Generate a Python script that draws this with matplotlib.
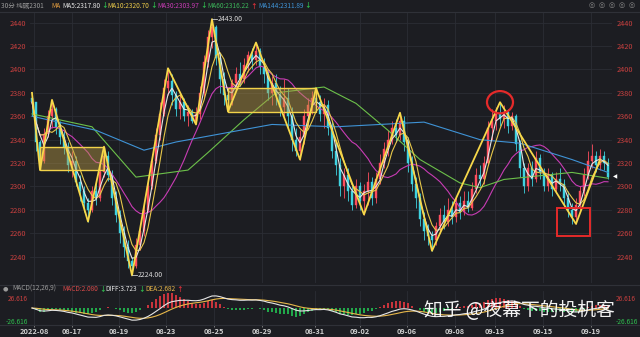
import numpy as np
import pandas as pd
import matplotlib
matplotlib.use("Agg")
import matplotlib.pyplot as plt
from matplotlib.patches import Rectangle, Ellipse
from matplotlib.lines import Line2D

plt.rcParams['font.family'] = ['Noto Sans CJK SC', 'DejaVu Sans']

# 30-minute soda ash futures (纯碱2301), one candle ~ every 4 px on the reference
closes = [2372, 2338, 2322, 2345, 2360, 2366, 2350, 2342, 2334, 2318,
          2322, 2304, 2296, 2286, 2280, 2296, 2290, 2312, 2326, 2310,
          2290, 2276, 2260, 2248, 2236, 2232, 2250, 2262, 2280, 2300,
          2322, 2344, 2362, 2384, 2390, 2378, 2366, 2372, 2360, 2364,
          2356, 2362, 2380, 2406, 2428, 2436, 2410, 2392, 2378, 2374,
          2388, 2396, 2392, 2404, 2412, 2408, 2416, 2402, 2396, 2380,
          2388, 2378, 2368, 2376, 2360, 2340, 2330, 2342, 2360, 2370,
          2376, 2372, 2362, 2370, 2350, 2330, 2318, 2300, 2310, 2296,
          2284, 2300, 2288, 2296, 2304, 2290, 2306, 2320, 2332, 2340,
          2350, 2344, 2356, 2338, 2320, 2302, 2290, 2272, 2262, 2258,
          2254, 2266, 2276, 2270, 2280, 2274, 2286, 2278, 2288, 2282,
          2298, 2310, 2306, 2320, 2350, 2356, 2362, 2358, 2364, 2352,
          2360, 2336, 2316, 2300, 2316, 2306, 2324, 2312, 2300, 2310,
          2298, 2306, 2302, 2290, 2280, 2274, 2284, 2296, 2310, 2322,
          2326, 2318, 2326, 2320, 2308]
highs = [2380, 2372, 2340, 2350, 2365, 2374, 2368, 2356, 2348, 2338,
         2330, 2326, 2310, 2300, 2290, 2300, 2305, 2318, 2334, 2330,
         2314, 2296, 2280, 2266, 2254, 2240, 2256, 2266, 2286, 2306,
         2328, 2350, 2372, 2392, 2401, 2396, 2382, 2380, 2376, 2370,
         2366, 2368, 2386, 2412, 2434, 2443, 2438, 2414, 2398, 2384,
         2392, 2402, 2406, 2410, 2416, 2418, 2423, 2418, 2410, 2400,
         2394, 2396, 2386, 2392, 2384, 2368, 2350, 2348, 2366, 2376,
         2382, 2384, 2378, 2376, 2374, 2356, 2338, 2324, 2316, 2316,
         2302, 2306, 2304, 2302, 2312, 2308, 2312, 2328, 2338, 2348,
         2356, 2358, 2363, 2360, 2342, 2326, 2308, 2294, 2278, 2268,
         2262, 2270, 2282, 2284, 2290, 2288, 2292, 2292, 2296, 2296,
         2304, 2316, 2318, 2326, 2356, 2366, 2368, 2372, 2370, 2366,
         2364, 2362, 2340, 2320, 2320, 2322, 2330, 2328, 2316, 2316,
         2312, 2312, 2316, 2306, 2296, 2286, 2290, 2300, 2316, 2330,
         2336, 2330, 2332, 2330, 2324]
lows = [2360, 2330, 2314, 2320, 2342, 2350, 2345, 2336, 2328, 2312,
        2308, 2300, 2288, 2278, 2270, 2278, 2284, 2288, 2308, 2305,
        2284, 2270, 2252, 2240, 2230, 2224, 2230, 2246, 2258, 2278,
        2298, 2320, 2340, 2360, 2378, 2370, 2360, 2358, 2356, 2352,
        2354, 2353, 2358, 2376, 2402, 2418, 2404, 2380, 2370, 2364,
        2370, 2384, 2386, 2388, 2398, 2400, 2404, 2396, 2388, 2374,
        2370, 2370, 2360, 2360, 2350, 2330, 2326, 2323, 2336, 2352,
        2362, 2366, 2356, 2350, 2344, 2324, 2310, 2292, 2290, 2288,
        2280, 2282, 2280, 2276, 2284, 2284, 2286, 2302, 2316, 2326,
        2336, 2338, 2340, 2330, 2312, 2296, 2282, 2266, 2254, 2250,
        2245, 2250, 2260, 2264, 2266, 2268, 2270, 2272, 2276, 2278,
        2280, 2294, 2300, 2302, 2318, 2340, 2348, 2352, 2350, 2346,
        2348, 2330, 2308, 2294, 2296, 2300, 2304, 2306, 2296, 2296,
        2292, 2294, 2296, 2284, 2274, 2268, 2268, 2280, 2292, 2306,
        2316, 2312, 2314, 2314, 2306]
first_open = 2376

# longer averages (bar index, price)
ma60_idx = [0, 15, 26, 39, 44, 53, 61, 73, 81, 89, 97, 107, 112, 118, 135, 144]
ma60_val = [2362, 2351, 2308, 2314, 2329, 2357, 2380, 2385, 2371, 2348, 2323, 2303, 2299, 2306, 2312, 2307]
ma144_idx = [0, 16, 28, 36, 60, 76, 98, 112, 122, 135, 144]
ma144_val = [2360, 2348, 2331, 2338, 2353, 2351, 2355, 2340, 2337, 2323, 2312]

# hand-drawn zigzag and boxes
zig_idx = [0, 2, 5, 14, 18, 25, 34, 41, 45, 49, 56, 67, 71, 83, 92, 100, 117, 136, 142]
zig_val = [2380, 2314, 2374, 2270, 2334, 2224, 2401, 2353, 2443, 2364, 2423, 2323, 2384, 2276, 2363, 2245, 2372, 2268, 2323]
boxes = [(2, 18, 2314, 2334), (49, 71, 2364, 2384)]

date_pos = [0.5, 10, 21.75, 33.5, 45.5, 57.5, 70.75, 82, 93.75, 105.75, 115.75, 127.75, 139.75]
date_labels = ['2022-08', '08-17', '08-19', '08-23', '08-25', '08-29', '08-31',
               '09-02', '09-06', '09-08', '09-13', '09-15', '09-19']
price_ticks = list(range(2240, 2441, 20))

ma_header = [('MA5:2317.80', '#e6e6e6', '↓'), ('MA10:2320.70', '#e8c84a', '↓'),
             ('MA30:2303.97', '#c83cb4', '↓'), ('MA60:2316.22', '#3cb45a', '↑'),
             ('MA144:2311.89', '#3f93d6', '↓')]
macd_header = [('MACD:2.080', '#d84a4a', '↓'), ('DIFF:3.723', '#e6e6e6', '↓'),
               ('DEA:2.682', '#e8b84a', '↑')]

BG = '#1c1d22'
GRID = '#2b2d34'
UP = '#ff4e5e'
DOWN = '#3fd2e0'
RED_TXT = '#c8403f'
GREEN = '#2fbf4f'
ARROW_UP = '#e0303a'

c = pd.Series(closes, dtype=float)
o = np.array([first_open] + closes[:-1], dtype=float)
h = np.maximum(np.array(highs, float), np.maximum(o, c.values))
l = np.minimum(np.array(lows, float), np.minimum(o, c.values))
x = np.arange(len(c))

ma5 = c.rolling(3, min_periods=1).mean()
ma10 = c.rolling(5, min_periods=1).mean()
ma30 = c.rolling(15, min_periods=1).mean()

ema12 = c.ewm(span=12, adjust=False).mean()
ema26 = c.ewm(span=26, adjust=False).mean()
diff = ema12 - ema26
dea = diff.ewm(span=9, adjust=False).mean()
hist = 2 * (diff - dea)

W, H = 640, 337
fig = plt.figure(figsize=(W / 100, H / 100), dpi=100, facecolor=BG)

def fx(px):
    return px / W

def fy(py):
    return 1 - py / H

ax = fig.add_axes([fx(30), fy(283), fx(582), (283 - 12) / H], facecolor=BG)
ax.set_xlim(-0.5, 145)
ax.set_ylim(2217.5, 2449.1)
for s in ax.spines.values():
    s.set_visible(False)
ax.set_yticks(price_ticks)
ax.set_yticklabels([str(v) for v in price_ticks])
ax.tick_params(axis='y', colors=RED_TXT, labelsize=5.3, length=0, pad=3,
               labelleft=True, labelright=True)
ax.set_xticks(date_pos)
ax.tick_params(axis='x', length=0, labelbottom=False)
ax.grid(True, color=GRID, lw=0.6)
ax.set_axisbelow(True)

# candles
up = c.values >= o
for i in x:
    col = UP if up[i] else DOWN
    ax.vlines(i, l[i], h[i], color=col, lw=0.6, zorder=2)
    bot = min(o[i], c.values[i])
    ht = max(abs(c.values[i] - o[i]), 0.8)
    ax.add_patch(Rectangle((i - 0.3, bot), 0.6, ht, facecolor=col, edgecolor=col, lw=0.3, zorder=2))

# moving averages
ax.plot(x, ma30, color='#c83cb4', lw=0.8, zorder=3)
ax.plot(ma60_idx, ma60_val, color='#6cc04a', lw=0.8, zorder=3)
ax.plot(ma144_idx, ma144_val, color='#3f93d6', lw=0.8, zorder=3)
ax.plot(x, ma10, color='#e8c84a', lw=0.8, zorder=3)
ax.plot(x, ma5, color='#e6e6e6', lw=0.8, zorder=3)

# boxes and zigzag
for x0, x1, y0, y1 in boxes:
    ax.add_patch(Rectangle((x0, y0), x1 - x0, y1 - y0, facecolor='#b99a45', alpha=0.45,
                           edgecolor='none', zorder=4))
    ax.add_patch(Rectangle((x0, y0), x1 - x0, y1 - y0, facecolor='none',
                           edgecolor='#f2d24a', lw=1.0, zorder=4))
ax.plot(zig_idx, zig_val, color='#f7d84a', lw=1.3, zorder=5)

# annotations
ax.add_patch(Ellipse((117, 2372), 6.5, 19, facecolor='none', edgecolor='#e52a2a', lw=1.6, zorder=6))
ax.add_patch(Rectangle((131.3, 2257.5), 8.2, 24, facecolor='none', edgecolor='#e52a2a', lw=1.4, zorder=6))
hi_i = int(np.argmax(h))
lo_i = int(np.argmin(l))
for idx, val in [(hi_i, h[hi_i]), (lo_i, l[lo_i])]:
    ax.plot([idx, idx + 1.3], [val, val], color='#cfcfcf', lw=0.6, zorder=6)
    ax.text(idx + 1.4, val, f'{val:.2f}', color='#d8d8d8', fontsize=5, va='center', zorder=6)
ax.text(145.2, c.values[-1], '◀', color='white', fontsize=4, va='center', ha='left',
        family='DejaVu Sans', clip_on=False)

# MACD panel
mx = fig.add_axes([fx(30), fy(325), fx(582), 34 / H], facecolor=BG)
mx.set_xlim(-0.5, 145)
lim = 1.4 * max(abs(diff).max(), abs(dea).max())
mx.set_ylim(-lim, lim)
for s in mx.spines.values():
    s.set_visible(False)
mx.set_yticks([])
mx.set_xticks(date_pos)
mx.set_xticklabels(date_labels)
mx.tick_params(axis='x', colors='#8a8a8a', labelcolor='#cfcfcf', labelsize=5.3,
               length=1.5, width=0.6, pad=0.5)
for t in mx.get_xticklabels():
    t.set_fontweight('bold')
mx.grid(True, axis='x', color=GRID, lw=0.6)
mx.set_axisbelow(True)
mx.bar(x, hist, width=0.45, color=np.where(hist >= 0, '#c8343c', '#21a84a'), zorder=2)
mx.plot(x, dea, color='#e8b84a', lw=0.8, zorder=3)
mx.plot(x, diff, color='#e6e6e6', lw=0.8, zorder=3)
for yy, lab, col in [(299, '26.616', RED_TXT), (322, '-26.616', GREEN)]:
    fig.text(fx(28), fy(yy), lab, color=col, fontsize=4.8, ha='right', va='center')
    fig.text(fx(616), fy(yy), lab, color=col, fontsize=4.8, ha='left', va='center')

# separators
for py in [12, 285, 325]:
    fig.add_artist(Line2D([0, 1], [fy(py), fy(py)], color='#2f3138', lw=0.8,
                          transform=fig.transFigure))

# headers: label, then its arrow placed right after the measured text
fig.canvas.draw()
rend = fig.canvas.get_renderer()

def head(px, py, lab, col, arr=None):
    t = fig.text(fx(px), fy(py), lab, color=col, fontsize=4.7, va='center')
    if arr:
        end = t.get_window_extent(rend).x1
        fig.text(end / W + 1.2 / W, fy(py), arr, color=GREEN if arr == '↓' else ARROW_UP,
                 fontsize=4.7, va='center', fontweight='bold')

head(1, 5.5, '30分 纯碱2301', '#9a9a9a')
head(51, 5.5, 'MA', '#e8a040')
for px, (lab, col, arr) in zip([62, 107, 157, 207, 258], ma_header):
    head(px, 5.5, lab, col, arr)
fig.text(fx(5), fy(289), '●', color='#9a9a9a', fontsize=4.5, va='center', ha='center',
         family='DejaVu Sans')
head(12, 289, 'MACD(12,26,9)', '#9a9a9a')
for px, (lab, col, arr) in zip([62, 105, 145], macd_header):
    head(px, 289, lab, col, arr)
for px in [592, 602, 612, 622, 632]:
    fig.text(fx(px), fy(5), '◎', color='#8a8a8a', fontsize=5, ha='center', va='center',
             family='DejaVu Sans')

# watermark
fig.text(fx(424), fy(311), '知乎 @夜幕下的投机客', color='white', fontsize=13.5,
         ha='left', va='center', alpha=0.95)

fig.savefig('out.png', dpi=100, facecolor=BG)
